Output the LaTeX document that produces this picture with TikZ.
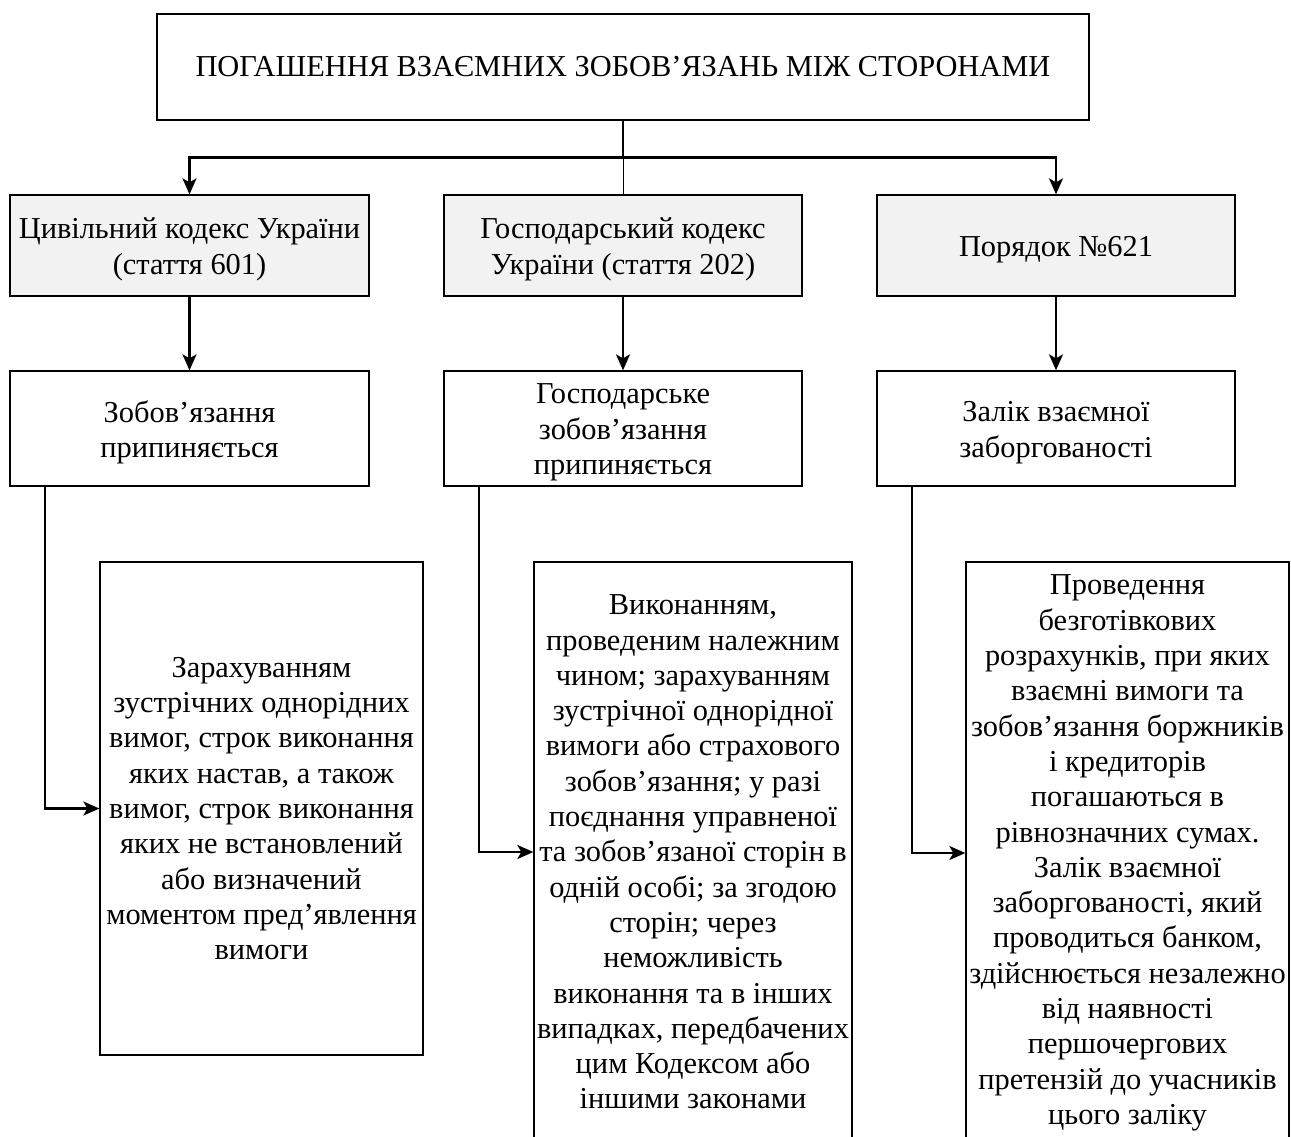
\documentclass[tikz,border=0pt]{standalone}
\usepackage{fontspec}
\setmainfont{Liberation Serif}
\usetikzlibrary{arrows.meta}
\definecolor{lightg}{HTML}{F2F2F2}
\begin{document}
\begin{tikzpicture}[x=1pt,y=-1pt,
  box/.style={draw, line width=1.3pt, inner sep=0pt, align=center,
    font=\fontsize{30.4}{35.3}\selectfont},
  graybox/.style={box, fill=lightg},
  txt/.style={inner sep=0pt, align=center, font=\fontsize{30.4}{35.5}\selectfont},
  conn/.style={line width=2.2pt},
  arr/.style={conn, -{Stealth[length=16pt,width=14pt,inset=4pt]}}]
\useasboundingbox (0,0) rectangle (1291,1136);

\node[box, minimum width=932pt, minimum height=106pt] (top) at (623,67)
  {ПОГАШЕННЯ ВЗАЄМНИХ ЗОБОВ’ЯЗАНЬ МІЖ СТОРОНАМИ};

\node[graybox, minimum width=359pt, minimum height=101pt] (r2a) at (189.5,245.5) {};
\node[graybox, minimum width=358pt, minimum height=101pt] (r2b) at (623,245.5) {};
\node[graybox, minimum width=358pt, minimum height=101pt] (r2c) at (1056,245.5) {};
\node[txt] (r2at) at ([yshift=-4pt]r2a.center) {Цивільний кодекс України\\(стаття 601)};
\node[txt] (r2bt) at ([yshift=-4pt]r2b.center) {Господарський кодекс\\України (стаття 202)};
\node[txt] (r2ct) at ([yshift=-4pt]r2c.center) {Порядок №621};

\node[box, minimum width=359pt, minimum height=115pt] (r3a) at (189.5,428.5) {};
\node[box, minimum width=358pt, minimum height=115pt] (r3b) at (623,428.5) {};
\node[box, minimum width=358pt, minimum height=115pt] (r3c) at (1056,428.5) {};
\node[txt] (r3at) at ([yshift=-4pt]r3a.center) {Зобов’язання\\припиняється};
\node[txt] (r3bt) at ([yshift=-4pt]r3b.center) {Господарське\\зобов’язання\\припиняється};
\node[txt] (r3ct) at ([yshift=-4pt]r3c.center) {Залік взаємної\\заборгованості};

\node[box, minimum width=323pt, minimum height=493pt] (r4a) at (261.5,808.5)
  {Зарахуванням\\зустрічних однорідних\\вимог, строк виконання\\яких настав, а також\\вимог, строк виконання\\яких не встановлений\\або визначений\\моментом пред’явлення\\вимоги};
\node[box, minimum width=318pt, minimum height=580pt] (r4b) at (693,852)
  {Виконанням,\\проведеним належним\\чином; зарахуванням\\зустрічної однорідної\\вимоги або страхового\\зобов’язання; у разі\\поєднання управненої\\та зобов’язаної сторін в\\одній особі; за згодою\\сторін; через\\неможливість\\виконання та в інших\\випадках, передбачених\\цим Кодексом або\\іншими законами};
\node[box, minimum width=323pt, minimum height=582pt] (r4c) at (1127.5,853)
  {Проведення\\безготівкових\\розрахунків, при яких\\взаємні вимоги та\\зобов’язання боржників\\і кредиторів\\погашаються в\\рівнозначних сумах.\\Залік взаємної\\заборгованості, який\\проводиться банком,\\здійснюється незалежно\\від наявності\\першочергових\\претензій до учасників\\цього заліку};

\coordinate (bus) at (623,157.5);
\draw[conn] (top.south) -- (bus);
\draw[arr] (bus) -| (r2a.north);
\draw[arr] (bus) -| (r2c.north);
\draw[line width=1pt] (bus) -- (r2b.north);

\draw[arr] (r2a) -- (r3a);
\draw[arr] (r2b) -- (r3b);
\draw[arr] (r2c) -- (r3c);

\draw[arr] ([xshift=36pt]r3a.south west) |- (r4a.west);
\draw[arr] ([xshift=36pt]r3b.south west) |- (r4b.west);
\draw[arr] ([xshift=36pt]r3c.south west) |- (r4c.west);
\end{tikzpicture}
\end{document}
